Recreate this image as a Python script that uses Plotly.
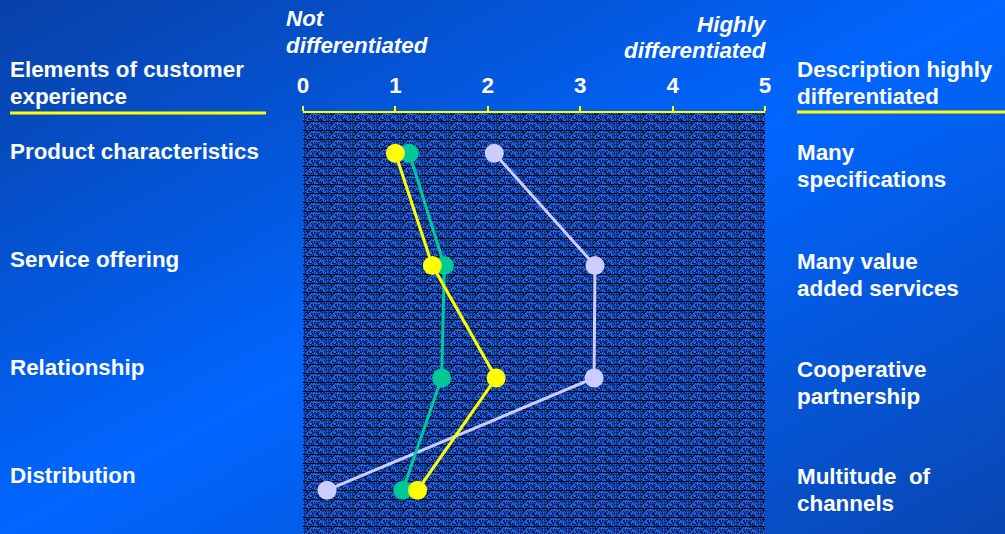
import base64
import plotly.graph_objects as go

# ---------------- data ----------------
elements = ["Product characteristics", "Service offering", "Relationship", "Distribution"]
descriptions = [["Many", "specifications"], ["Many value", "added services"],
                ["Cooperative", "partnership"], ["Multitude\u00a0 of", "channels"]]
series_lavender = [2.07, 3.16, 3.15, 0.26]
series_teal = [1.15, 1.53, 1.50, 1.08]
series_yellow = [1.00, 1.40, 2.09, 1.24]
x_ticks = [0, 1, 2, 3, 4, 5]

# ---------------- geometry helpers ----------------
W, H = 1005, 534
L, R, T, B = 303, 240, 113, 0
PW, PH = W - L - R, H - T - B


def px(x):
    return (x - L) / PW


def py(y):
    return (H - B - y) / PH


FONT = "Liberation Sans, Arial, sans-serif"
FS = 22.4

# background gradient (diagonal)
grad_svg = (
    '<svg xmlns="http://www.w3.org/2000/svg" width="1005" height="534" '
    'viewBox="0 0 1005 534" preserveAspectRatio="none"><defs>'
    '<linearGradient id="g" x1="0" y1="0" x2="1" y2="1">'
    '<stop offset="0" stop-color="#0840a6"/>'
    '<stop offset="0.5" stop-color="#0066ff"/>'
    '<stop offset="1" stop-color="#0946b2"/>'
    '</linearGradient></defs>'
    '<rect width="1005" height="534" fill="url(#g)"/></svg>'
)

# textured plot area (deterministic speckle tile)
TW, TH = 24, 9
cells = []
for j in range(TH - 1):
    for i in range(TW):
        h = (i * 7919 + j * 104729 + i * j * 31) % 97
        if h < 40:
            cells.append(f'<rect x="{i}" y="{j}" width="1" height="1" fill="#2063e6"/>')
        elif h < 58:
            cells.append(f'<rect x="{i}" y="{j}" width="1" height="1" fill="#04143a"/>')
tex_svg = (
    f'<svg xmlns="http://www.w3.org/2000/svg" width="{PW}" height="{PH}" '
    f'viewBox="0 0 {PW} {PH}" preserveAspectRatio="none" shape-rendering="crispEdges"><defs>'
    f'<pattern id="p" width="{TW}" height="{TH}" patternUnits="userSpaceOnUse">'
    f'<rect width="{TW}" height="{TH}" fill="#0d3282"/>' + "".join(cells) +
    f'<rect x="0" y="{TH - 1}" width="{TW}" height="1" fill="#020a24"/>'
    '</pattern></defs>'
    f'<rect width="{PW}" height="{PH}" fill="url(#p)"/></svg>'
)


def uri(svg):
    return "data:image/svg+xml;base64," + base64.b64encode(svg.encode()).decode()


fig = go.Figure()

for vals, col in [(series_lavender, "#ccccff"), (series_teal, "#00c896"), (series_yellow, "#ffff00")]:
    fig.add_trace(go.Scatter(
        x=vals, y=elements, mode="lines+markers",
        line=dict(color=col, width=3),
        marker=dict(color=col, size=19),
        showlegend=False, hoverinfo="skip", cliponaxis=False,
    ))

annotations = []


def ann(text, x, y, xanchor="left", italic=False):
    annotations.append(dict(
        text=text, x=px(x), y=py(y), xref="paper", yref="paper",
        xanchor=xanchor, yanchor="middle", showarrow=False,
        font=dict(family=FONT, size=FS, color="white", weight="bold",
                  style="italic" if italic else "normal"),
    ))


LX, RX = 8, 795
ann("Elements of customer", LX, 69)
ann("experience", LX, 96)
ann("Description highly", RX, 69)
ann("differentiated", RX, 96)
left_y = [151, 259, 367, 475]
for name, yy in zip(elements, left_y):
    ann(name, LX, yy)
right_y = [152, 261, 369, 476]
for d, yy in zip(descriptions, right_y):
    ann(d[0], RX, yy)
    ann(d[1], RX, yy + 27)
ann("Not", 284, 19, italic=True)
ann("differentiated", 284, 46, italic=True)
ann("Highly", 769, 25, xanchor="right", italic=True)
ann("differentiated", 769, 51, xanchor="right", italic=True)

shapes = [
    dict(type="line", xref="paper", yref="paper", x0=px(10), x1=px(266), y0=py(113), y1=py(113),
         line=dict(color="#ffff00", width=3)),
    dict(type="line", xref="paper", yref="paper", x0=px(797), x1=px(1005), y0=py(112), y1=py(112),
         line=dict(color="#ffff00", width=3)),
]

fig.update_layout(
    width=W, height=H,
    margin=dict(l=L, r=R, t=T, b=B, pad=0),
    paper_bgcolor="#0a55d0",
    plot_bgcolor="rgba(0,0,0,0)",
    images=[
        dict(source=uri(grad_svg), xref="paper", yref="paper", x=px(0), y=py(0),
             sizex=W / PW, sizey=H / PH, xanchor="left", yanchor="top",
             sizing="stretch", layer="below"),
        dict(source=uri(tex_svg), xref="paper", yref="paper", x=0, y=1,
             sizex=1, sizey=1, xanchor="left", yanchor="top",
             sizing="stretch", layer="below"),
    ],
    xaxis=dict(range=[0, 5], side="top", tickvals=x_ticks, ticktext=[str(t) for t in x_ticks],
               showgrid=False, zeroline=False, showline=True, linecolor="#ffff00", linewidth=2,
               ticks="outside", ticklen=5, tickwidth=2, tickcolor="#ffff00",
               ticklabelstandoff=4,
               tickfont=dict(family=FONT, size=FS, color="white", weight="bold"),
               fixedrange=True),
    yaxis=dict(type="category", categoryorder="array", categoryarray=elements,
               range=[3.39, -0.359], visible=False, showgrid=False, fixedrange=True),
    annotations=annotations,
    shapes=shapes,
)

fig.write_html("out.html")
